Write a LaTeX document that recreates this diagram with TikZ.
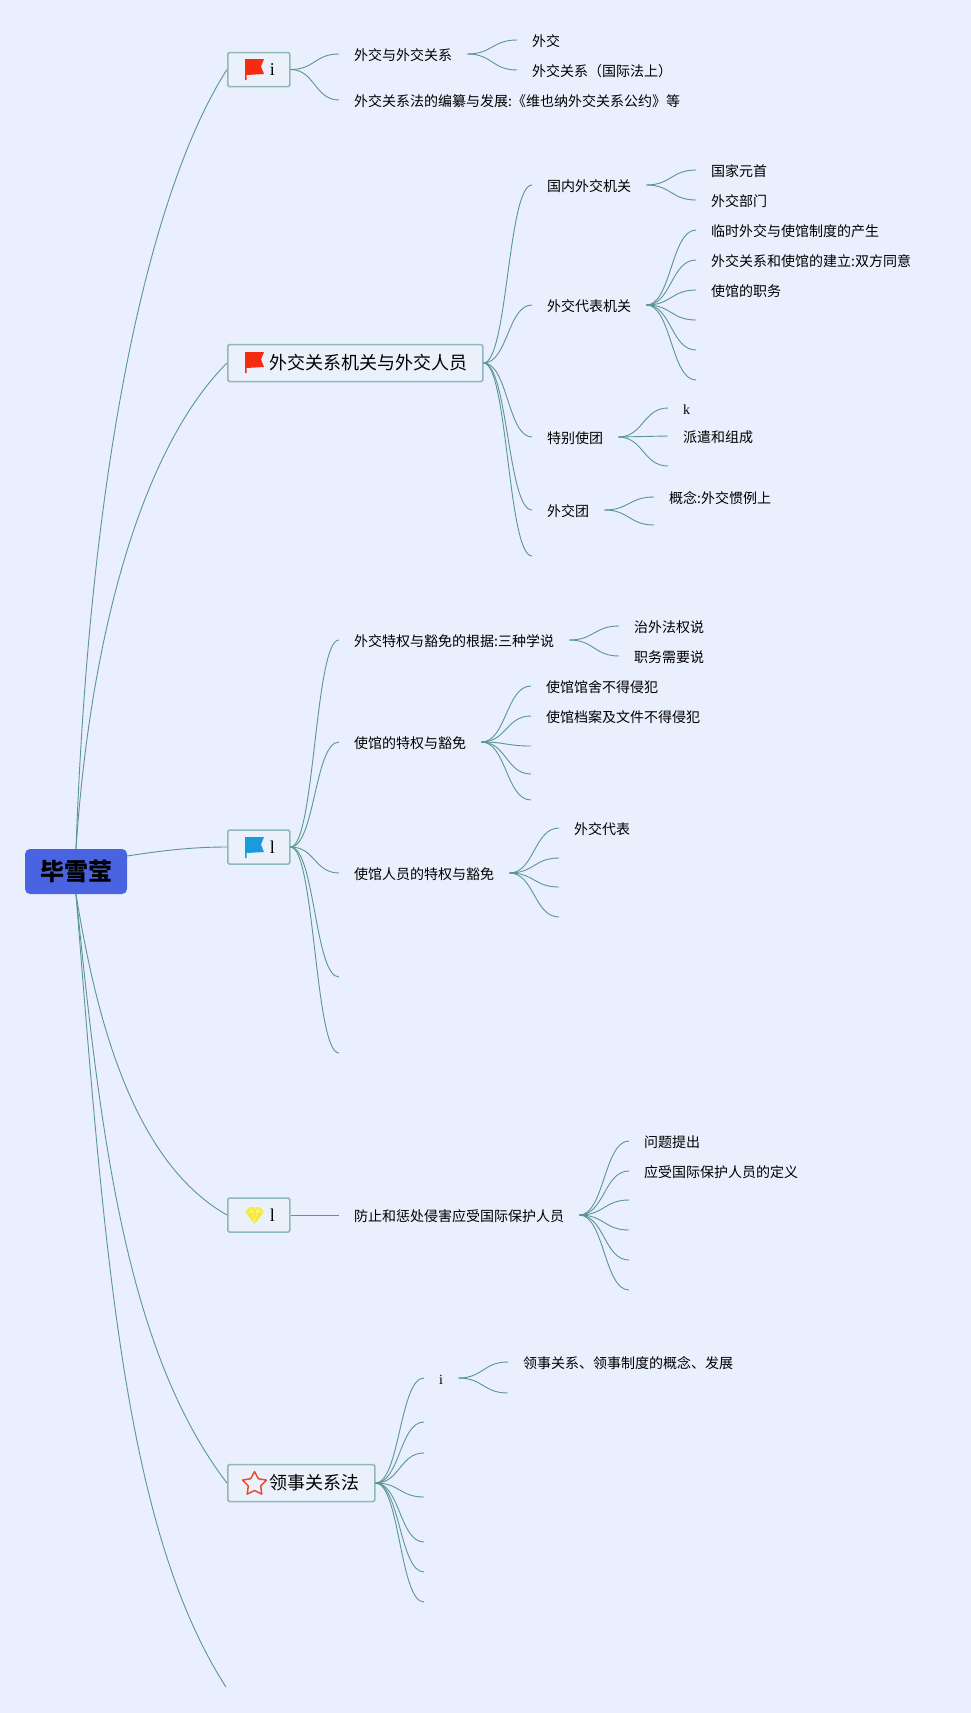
\documentclass[tikz,border=0pt]{standalone}
\usepackage{xcolor}
\usepackage{fontspec}
\setmainfont{Noto Sans CJK SC}
\newfontfamily\latinfont{Liberation Serif}
\usepackage{tikz}
\usetikzlibrary{calc}
\definecolor{paper}{HTML}{E9EFFD}
\definecolor{rootblue}{HTML}{4A63E0}
\definecolor{wirecol}{HTML}{5A9692}
\definecolor{boxedge}{HTML}{8FB8BC}
\definecolor{boxfill}{HTML}{EBF1FB}
\definecolor{flagred}{HTML}{F42C10}
\definecolor{flagblue}{HTML}{1A9BDE}
\definecolor{gemyellow}{HTML}{F6E92F}
\definecolor{starred}{HTML}{EA4A33}

\begin{document}
\begin{tikzpicture}[
  x=1pt, y=-1pt,
  root/.style={fill=rootblue, rounded corners=5pt, minimum width=102pt, minimum height=45pt, inner sep=0pt, font=\bfseries\fontsize{24}{24}\selectfont},
  topic/.style={draw=boxedge, line width=1.5pt, fill=boxfill, rounded corners=1.5pt, anchor=west, minimum height=34pt, inner ysep=0pt, inner xsep=15pt, font=\fontsize{18}{18}\selectfont},
  item/.style={anchor=west, inner xsep=15pt, inner ysep=0pt, text height=13pt, text depth=0pt, font=\fontsize{14}{14}\selectfont},
  wire/.style={draw=wirecol, line width=0.9pt},
  link/.style={wire, to path={let \p1=(\tikztostart), \p2=(\tikztotarget), \n1={0.5*\x1+0.5*\x2} in .. controls (\n1,\y1) and (\n1,\y2) .. (\tikztotarget)}},
  flagicon/.pic={\path[pic actions] (0,0) -- (19,0) -- (16,7.5) -- (19,15) -- (1.5,16) -- (1.5,21) -- (0,21) -- cycle;},
  gemicon/.pic={\path[pic actions] (-5,0) -- (5,0) -- (9.5,5) -- (0,17) -- (-9.5,5) -- cycle; \draw[white!60!gemyellow, line width=0.6pt] (-9.5,5) -- (9.5,5) (-3,5) -- (0,15) -- (3,5) (-5,0) -- (-3,5) -- (0,0) -- (3,5) -- (5,0);},
  staricon/.pic={\draw[pic actions] (0,-12.5) -- (3.8,-5.3) -- (11.9,-3.9) -- (6.2,2) -- (7.3,10.1) -- (0,6.5) -- (-7.3,10.1) -- (-6.2,2) -- (-11.9,-3.9) -- (-3.8,-5.3) -- cycle;}
]
  \useasboundingbox[fill=paper] (0,0) rectangle (971,1713);

  % ===== ROOT AND TOPICS =====
  \node[root] (root) at (76,871.5) {\hspace*{1pt}毕雪莹};
  \node[topic] (t1) at (227,69.5) {\hspace*{27pt}{\latinfont i}};
  \node[topic, minimum height=37pt] (t2) at (227,363) {\hspace*{27pt}外交关系机关与外交人员};
  \node[topic] (t3) at (227,847) {\hspace*{27pt}{\latinfont l}};
  \node[topic] (t4) at (227,1215) {\hspace*{27pt}{\latinfont l}};
  \node[topic, minimum height=37pt] (t5) at (227,1483) {\hspace*{27pt}领事关系法};
  \coordinate (t6) at (226,1687);
  \coordinate (rootside) at (127,856);

  \pic[fill=flagred] at (245,59) {flagicon};
  \pic[fill=flagred] at (245,352) {flagicon};
  \pic[fill=flagblue] at (245,837) {flagicon};
  \pic[fill=gemyellow] at (254.5,1207) {gemicon};
  \pic[draw=starred, line width=1.5pt, line join=round] at (254.5,1484) {staricon};

  \draw[wire] (root.north) .. controls (90,460) and (150,190) .. (t1.west);
  \draw[wire] (root.north) .. controls (90,640) and (140,450) .. (t2.west);
  \draw[wire] (rootside) .. controls (160,851) and (190,847) .. (t3.west);
  \draw[wire] (root.south) .. controls (95,1010) and (130,1160) .. (t4.west);
  \draw[wire] (root.south) .. controls (100,1130) and (125,1350) .. (t5.west);
  \draw[wire] (root.south) .. controls (105,1260) and (125,1530) .. (t6);

  % ===== FIRST TOPIC =====
  \node[item] (a1) at (339,54) {外交与外交关系};
  \node[item] (a2) at (339,100) {外交关系法的编纂与发展:《维也纳外交关系公约》等};
  \node[item] (a11) at (517,40) {外交};
  \node[item] (a12) at (517,70) {外交关系（国际法上）};

  \draw[link] (t1.east) to (a1.west);
  \draw[link] (t1.east) to (a2.west);
  \draw[link] (a1.east) to (a11.west);
  \draw[link] (a1.east) to (a12.west);

  % ===== SECOND TOPIC =====
  \node[item] (b1) at (532,185) {国内外交机关};
  \node[item] (b2) at (532,305) {外交代表机关};
  \node[item] (b3) at (532,437) {特别使团};
  \node[item] (b4) at (532,510) {外交团};
  \coordinate (b5) at (532,556);

  \node[item] (b11) at (696,170) {国家元首};
  \node[item] (b12) at (696,200) {外交部门};
  \node[item] (b21) at (696,230) {临时外交与使馆制度的产生};
  \node[item] (b22) at (696,260) {外交关系和使馆的建立:双方同意};
  \node[item] (b23) at (696,290) {使馆的职务};
  \coordinate (b24) at (696,320);
  \coordinate (b25) at (696,350);
  \coordinate (b26) at (696,380);
  \node[item] (b31) at (668,408) {\latinfont k};
  \node[item] (b32) at (668,436) {派遣和组成};
  \coordinate (b33) at (668,466);
  \node[item] (b41) at (654,497) {概念:外交惯例上};
  \coordinate (b42) at (654,525);

  \draw[link] (t2.east) to (b1.west);
  \draw[link] (t2.east) to (b2.west);
  \draw[link] (t2.east) to (b3.west);
  \draw[link] (t2.east) to (b4.west);
  \draw[link] (t2.east) to (b5);
  \draw[link] (b1.east) to (b11.west);
  \draw[link] (b1.east) to (b12.west);
  \draw[link] (b2.east) to (b21.west);
  \draw[link] (b2.east) to (b22.west);
  \draw[link] (b2.east) to (b23.west);
  \draw[link] (b2.east) to (b24);
  \draw[link] (b2.east) to (b25);
  \draw[link] (b2.east) to (b26);
  \draw[link] (b3.east) to (b31.west);
  \draw[link] (b3.east) to (b32.west);
  \draw[link] (b3.east) to (b33);
  \draw[link] (b4.east) to (b41.west);
  \draw[link] (b4.east) to (b42);

  % ===== THIRD TOPIC =====
  \node[item] (c1) at (339,640) {外交特权与豁免的根据:三种学说};
  \node[item] (c2) at (339,742) {使馆的特权与豁免};
  \node[item] (c3) at (339,873) {使馆人员的特权与豁免};
  \coordinate (c4) at (339,977);
  \coordinate (c5) at (339,1053);

  \node[item] (c11) at (619,626) {治外法权说};
  \node[item] (c12) at (619,656) {职务需要说};
  \node[item] (c21) at (531,686) {使馆馆舍不得侵犯};
  \node[item] (c22) at (531,716) {使馆档案及文件不得侵犯};
  \coordinate (c23) at (531,746);
  \coordinate (c24) at (531,774);
  \coordinate (c25) at (531,800);
  \node[item] (c31) at (559,828) {外交代表};
  \coordinate (c32) at (559,858);
  \coordinate (c33) at (559,887);
  \coordinate (c34) at (559,917);

  \draw[link] (t3.east) to (c1.west);
  \draw[link] (t3.east) to (c2.west);
  \draw[link] (t3.east) to (c3.west);
  \draw[link] (t3.east) to (c4);
  \draw[link] (t3.east) to (c5);
  \draw[link] (c1.east) to (c11.west);
  \draw[link] (c1.east) to (c12.west);
  \draw[link] (c2.east) to (c21.west);
  \draw[link] (c2.east) to (c22.west);
  \draw[link] (c2.east) to (c23);
  \draw[link] (c2.east) to (c24);
  \draw[link] (c2.east) to (c25);
  \draw[link] (c3.east) to (c31.west);
  \draw[link] (c3.east) to (c32);
  \draw[link] (c3.east) to (c33);
  \draw[link] (c3.east) to (c34);

  % ===== FOURTH TOPIC =====
  \node[item] (d1) at (339,1215) {防止和惩处侵害应受国际保护人员};
  \node[item] (d11) at (629,1141) {问题提出};
  \node[item] (d12) at (629,1171) {应受国际保护人员的定义};
  \coordinate (d13) at (629,1200);
  \coordinate (d14) at (629,1230);
  \coordinate (d15) at (629,1260);
  \coordinate (d16) at (629,1290);

  \draw[link] (t4.east) to (d1.west);
  \draw[link] (d1.east) to (d11.west);
  \draw[link] (d1.east) to (d12.west);
  \draw[link] (d1.east) to (d13);
  \draw[link] (d1.east) to (d14);
  \draw[link] (d1.east) to (d15);
  \draw[link] (d1.east) to (d16);

  % ===== FIFTH TOPIC =====
  \node[item] (e1) at (424,1378) {\latinfont i};
  \coordinate (e2) at (424,1422);
  \coordinate (e3) at (424,1453);
  \coordinate (e4) at (424,1497);
  \coordinate (e5) at (424,1542);
  \coordinate (e6) at (424,1572);
  \coordinate (e7) at (424,1602);
  \node[item] (e11) at (508,1362) {领事关系、领事制度的概念、发展};
  \coordinate (e12) at (508,1393);

  \draw[link] (t5.east) to (e1.west);
  \draw[link] (t5.east) to (e2);
  \draw[link] (t5.east) to (e3);
  \draw[link] (t5.east) to (e4);
  \draw[link] (t5.east) to (e5);
  \draw[link] (t5.east) to (e6);
  \draw[link] (t5.east) to (e7);
  \draw[link] (e1.east) to (e11.west);
  \draw[link] (e1.east) to (e12);
\end{tikzpicture}
\end{document}
